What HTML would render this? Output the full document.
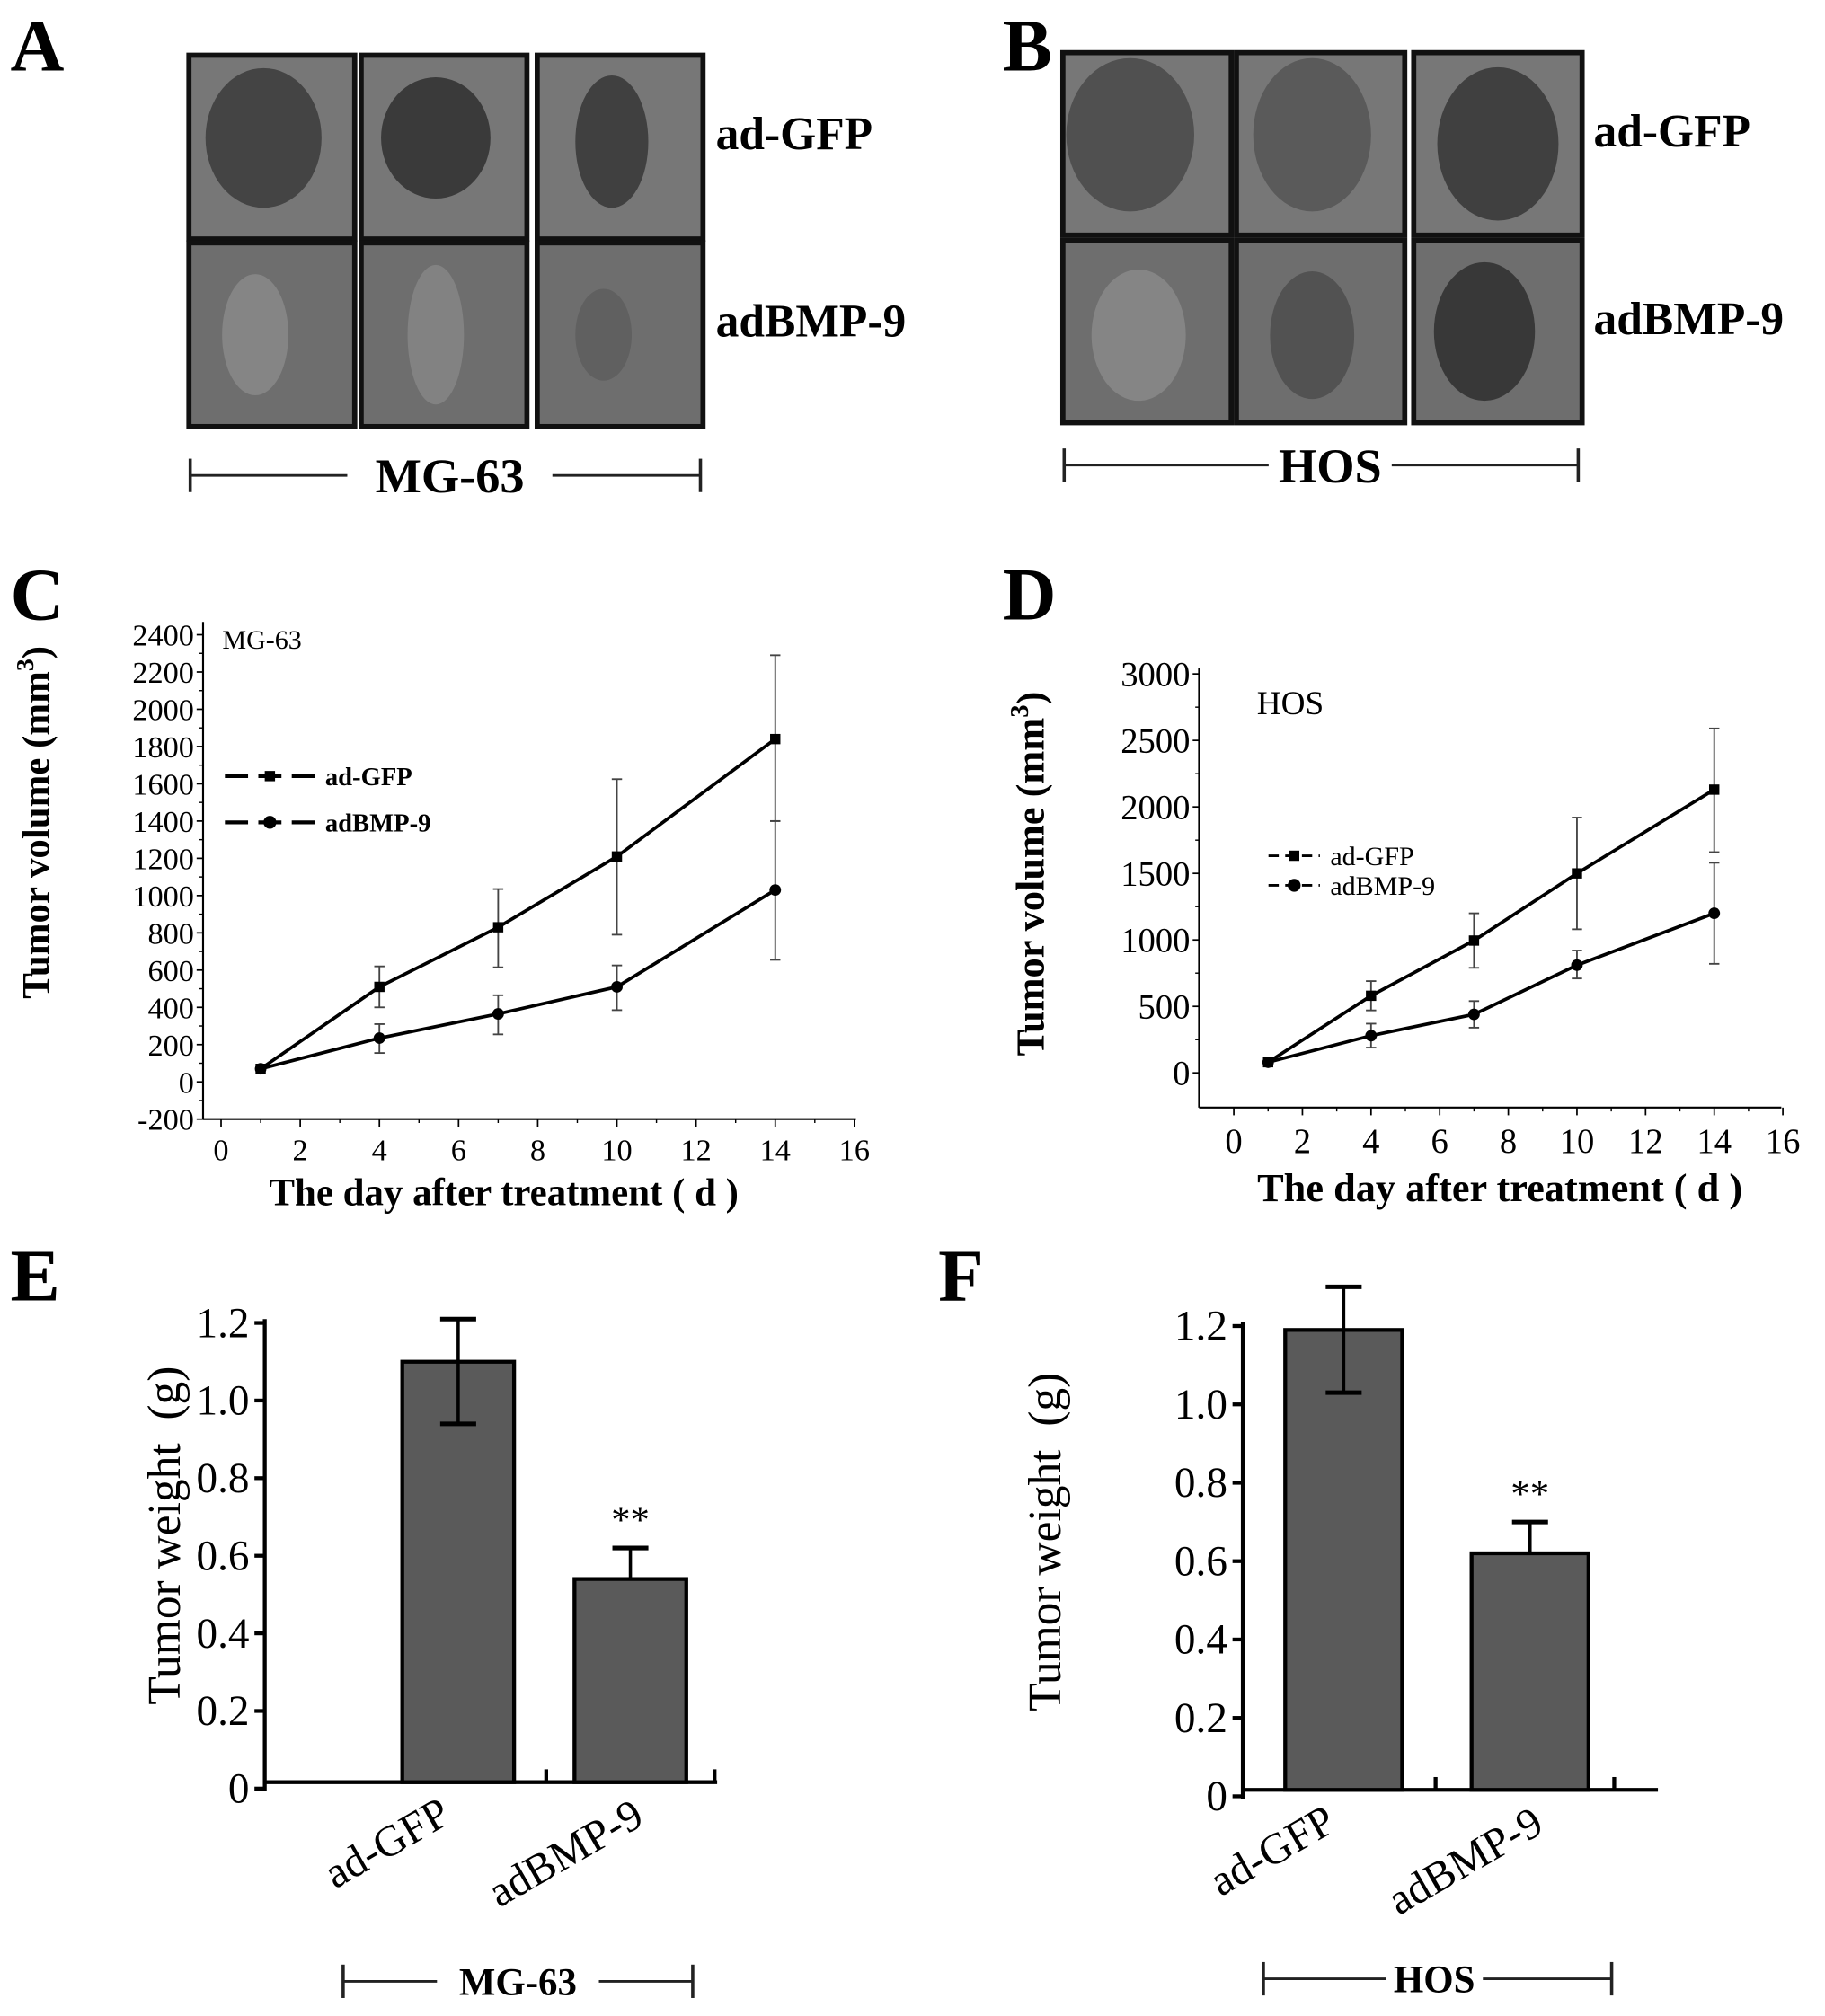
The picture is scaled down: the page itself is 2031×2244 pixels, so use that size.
<!DOCTYPE html>
<html><head><meta charset="utf-8"><style>
html,body{margin:0;padding:0;background:#fff;}
svg{display:block;}
text{font-family:"Liberation Serif",serif;fill:#000;}
</style></head><body>
<svg id="fig" width="2031" height="2244" viewBox="0 0 1420 1569" preserveAspectRatio="none" xmlns="http://www.w3.org/2000/svg">
<g id="photos"></g>
<text x="8" y="55" font-size="58" font-weight="bold">A</text>
<text x="780" y="55" font-size="58" font-weight="bold">B</text>
<text x="8" y="482" font-size="58" font-weight="bold">C</text>
<text x="780" y="482" font-size="58" font-weight="bold">D</text>
<text x="8" y="1012" font-size="58" font-weight="bold">E</text>
<text x="730" y="1012" font-size="58" font-weight="bold">F</text>
<g id="C"></g>
<g id="D"></g>
<g id="E"></g>
<g id="F"></g>
</svg>
<script>
// ---- Chart C data ----
const daysC = [1, 4, 7, 10, 14];
const gfpC = [70, 510, 830, 1210, 1840];
const gfpCHi = [70, 620, 1035, 1625, 2290];
const gfpCLo = [70, 400, 615, 790, 1400];
const bmpC = [70, 235, 365, 510, 1030];
const bmpCHi = [70, 310, 465, 625, 1400];
const bmpCLo = [70, 155, 255, 385, 655];
const yTicksC = [-200, 0, 200, 400, 600, 800, 1000, 1200, 1400, 1600, 1800, 2000, 2200, 2400];
const xTicks = [0, 2, 4, 6, 8, 10, 12, 14, 16];
// ---- Chart D data ----
const daysD = [1, 4, 7, 10, 14];
const gfpD = [80, 580, 995, 1500, 2130];
const gfpDHi = [80, 690, 1200, 1920, 2590];
const gfpDLo = [80, 470, 790, 1080, 1660];
const bmpD = [80, 280, 440, 810, 1200];
const bmpDHi = [80, 370, 540, 920, 1580];
const bmpDLo = [80, 190, 340, 710, 820];
const yTicksD = [0, 500, 1000, 1500, 2000, 2500, 3000];
// ---- Charts E/F data ----
const groups = ["ad-GFP", "adBMP-9"];
const weightE = [1.10, 0.54];
const weightEHi = [1.21, 0.62];
const weightELo = [0.94, 0.54];
const weightF = [1.19, 0.62];
const weightFHi = [1.30, 0.70];
const weightFLo = [1.03, 0.62];
const yTicksW = ["0", "0.2", "0.4", "0.6", "0.8", "1.0", "1.2"];

const NS = "http://www.w3.org/2000/svg";
function mk(parent, tag, attrs, txt) {
  const e = document.createElementNS(NS, tag);
  for (const k in attrs) e.setAttribute(k, attrs[k]);
  if (txt !== undefined) e.textContent = txt;
  parent.appendChild(e);
  return e;
}

// ---- photos ----
const ph = document.getElementById('photos');
function photoBlock(x0, y0, cellsX, rowsY, w, h, blobs) {
  let i = 0;
  rowsY.forEach((ry, r) => cellsX.forEach((cx, c) => {
    const bg = mk(ph, 'rect', {x: cx, y: ry, width: w, height: h, fill: r === 0 ? '#777' : '#6e6e6e', stroke: '#111', 'stroke-width': 4});
    
    
    const b = blobs[i++];
    const el = mk(ph, 'ellipse', {cx: cx + w * b[0], cy: ry + h * b[1], rx: w * b[2], ry: h * b[3], fill: b[4]});
    
    
  }));
}
photoBlock(0, 0, [147, 281, 418], [43, 189], 129, 143,
  [[0.45,0.45,0.35,0.38,'#444'],[0.45,0.45,0.33,0.33,'#3a3a3a'],[0.45,0.47,0.22,0.36,'#404040'],
   [0.4,0.5,0.2,0.33,'#858585'],[0.45,0.5,0.17,0.38,'#828282'],[0.4,0.5,0.17,0.25,'#606060']]);
photoBlock(0, 0, [827, 962, 1100], [41, 187], 131, 142,
  [[0.4,0.45,0.38,0.42,'#505050'],[0.45,0.45,0.35,0.42,'#5a5a5a'],[0.5,0.5,0.36,0.42,'#404040'],
   [0.45,0.52,0.28,0.36,'#858585'],[0.45,0.52,0.25,0.35,'#525252'],[0.42,0.5,0.3,0.38,'#383838']]);
[["ad-GFP",557,116],["adBMP-9",557,262],["ad-GFP",1240,114],["adBMP-9",1240,260]].forEach(t => {
  const e = mk(ph, 'text', {x: t[1], y: t[2], 'font-size': 36, 'font-weight': 'bold'}, t[0]);
  
  
});
function bracket(parent, x1, x2, y, label, tx, fs) {
  mk(parent, 'line', {x1: x1, x2: x2, y1: y, y2: y, stroke: '#222', 'stroke-width': 2});
  mk(parent, 'line', {x1: x1, x2: x1, y1: y - 13, y2: y + 13, stroke: '#222', 'stroke-width': 2.5});
  mk(parent, 'line', {x1: x2, x2: x2, y1: y - 13, y2: y + 13, stroke: '#222', 'stroke-width': 2.5});
  const w = label.length * fs * 0.42;
  mk(parent, 'rect', {x: tx - w, y: y - 20, width: 2 * w, height: 40, fill: '#fff'});
  const t = mk(parent, 'text', {x: tx, y: y + fs * 0.35, 'font-size': fs, 'font-weight': 'bold', 'text-anchor': 'middle'}, label);
  
  
}
bracket(ph, 148, 545, 370, "MG-63", 350, 38);
bracket(ph, 828, 1228, 362, "HOS", 1035, 38);

// ---- line charts ----
function lineChart(id, o) {
  const g = document.getElementById(id);
  const X = v => o.x0 + (v - 0) * o.xs;
  const Y = v => o.y0 - v * o.ys;
  mk(g, 'line', {x1: o.ax, x2: o.ax, y1: o.top, y2: o.bot, stroke: '#000', 'stroke-width': 1.5});
  mk(g, 'line', {x1: o.ax, x2: o.right, y1: o.bot, y2: o.bot, stroke: '#000', 'stroke-width': 1.5});
  o.yt.forEach((v, i) => {
    mk(g, 'line', {x1: o.ax - 5, x2: o.ax, y1: Y(v), y2: Y(v), stroke: '#000', 'stroke-width': 1.2});
    if (i < o.yt.length - 1) { const m = (v + o.yt[i+1]) / 2; mk(g, 'line', {x1: o.ax - 3, x2: o.ax, y1: Y(m), y2: Y(m), stroke: '#000', 'stroke-width': 1}); }
    const t = mk(g, 'text', {x: o.ax - 7, y: Y(v) + o.tfs * 0.35, 'font-size': o.tfs, 'text-anchor': 'end'}, String(v));
    
    
  });
  xTicks.forEach((v, i) => {
    mk(g, 'line', {x1: X(v), x2: X(v), y1: o.bot, y2: o.bot + 6, stroke: '#000', 'stroke-width': 1.2});
    if (i < xTicks.length - 1) mk(g, 'line', {x1: X(v + 1), x2: X(v + 1), y1: o.bot, y2: o.bot + 3, stroke: '#000', 'stroke-width': 1});
    const t = mk(g, 'text', {x: X(v), y: o.bot + 8 + o.tfs, 'font-size': o.tfs, 'text-anchor': 'middle'}, String(v));
    
    
  });
  o.series.forEach((s, si) => {
    const pts = o.days.map((d, i) => X(d) + ',' + Y(s.v[i])).join(' ');
    const pl = mk(g, 'polyline', {points: pts, fill: 'none', stroke: '#000', 'stroke-width': 2.6});
    
    
    o.days.forEach((d, i) => {
      mk(g, 'line', {x1: X(d), x2: X(d), y1: Y(s.hi[i]), y2: Y(s.lo[i]), stroke: '#444', 'stroke-width': 1.3});
      mk(g, 'line', {x1: X(d) - 4, x2: X(d) + 4, y1: Y(s.hi[i]), y2: Y(s.hi[i]), stroke: '#444', 'stroke-width': 1.3});
      mk(g, 'line', {x1: X(d) - 4, x2: X(d) + 4, y1: Y(s.lo[i]), y2: Y(s.lo[i]), stroke: '#444', 'stroke-width': 1.3});
      const m = si === 0 ? mk(g, 'rect', {x: X(d) - 4, y: Y(s.v[i]) - 4, width: 8, height: 8, fill: '#000'})
                         : mk(g, 'circle', {cx: X(d), cy: Y(s.v[i]), r: 4.5, fill: '#000'});
      
      
    });
    const ly = o.leg[1] + si * o.leg[3];
    mk(g, 'line', {x1: o.leg[0], x2: o.leg[0] + o.leg[2], y1: ly, y2: ly, stroke: '#000', 'stroke-width': o.lw, 'stroke-dasharray': o.dash});
    if (si === 0) mk(g, 'rect', {x: o.leg[0] + o.leg[2] / 2 - 4, y: ly - 4, width: 8, height: 8, fill: '#000'});
    else mk(g, 'circle', {cx: o.leg[0] + o.leg[2] / 2, cy: ly, r: 5, fill: '#000'});
    const lt = mk(g, 'text', {x: o.leg[0] + o.leg[2] + 8, y: ly + o.lfs * 0.35, 'font-size': o.lfs, 'font-weight': o.lbold}, s.label);
    
    
  });
  const tt = mk(g, 'text', {x: o.title[0], y: o.title[1], 'font-size': o.title[2]}, o.title[3]);
  
  
  const yl = mk(g, 'text', {x: 0, y: 0, 'font-size': o.axfs, 'font-weight': 'bold', 'text-anchor': 'middle', transform: `translate(${o.ylab[0]},${o.ylab[1]}) rotate(-90)`});
  yl.innerHTML = 'Tumor volume  (mm<tspan font-size="' + (o.axfs * 0.65) + '" dy="-12">3</tspan><tspan dy="12">)</tspan>';
  
  
  const xl = mk(g, 'text', {x: o.xlab[0], y: o.xlab[1], 'font-size': o.axfs, 'font-weight': 'bold', 'text-anchor': 'middle'}, 'The day after treatment ( d )');
  
  
}
lineChart('C', {x0: 172, xs: 30.8, y0: 842, ys: 0.145, ax: 158, top: 484, bot: 871, right: 666, yt: yTicksC, tfs: 24,
  days: daysC, series: [{name: 'ad-gfp', label: 'ad-GFP', v: gfpC, hi: gfpCHi, lo: gfpCLo}, {name: 'adbmp9', label: 'adBMP-9', v: bmpC, hi: bmpCHi, lo: bmpCLo}],
  leg: [175, 604, 70, 36], lw: 3, dash: '18,8', lfs: 20, lbold: 'bold', title: [173, 505, 21, 'MG-63'], ylab: [38, 640], xlab: [392, 938], axfs: 30});
lineChart('D', {x0: 960, xs: 26.7, y0: 835, ys: 0.1035, ax: 933, top: 520, bot: 862, right: 1386, yt: yTicksD, tfs: 27,
  days: daysD, series: [{name: 'ad-gfp', label: 'ad-GFP', v: gfpD, hi: gfpDHi, lo: gfpDLo}, {name: 'adbmp9', label: 'adBMP-9', v: bmpD, hi: bmpDHi, lo: bmpDLo}],
  leg: [987, 666, 40, 23], lw: 2, dash: '8,5', lfs: 21, lbold: 'normal', title: [978, 556, 26, 'HOS'], ylab: [812, 680], xlab: [1167, 935], axfs: 31});

// ---- bar charts ----
function barChart(id, o) {
  const g = document.getElementById(id);
  const Y = v => o.y0 - v * o.ys;
  mk(g, 'line', {x1: o.ax, x2: o.ax, y1: Y(1.2) - 3, y2: o.y0 + 2, stroke: '#000', 'stroke-width': 3});
  mk(g, 'line', {x1: o.ax, x2: o.right, y1: o.y0 - 5, y2: o.y0 - 5, stroke: '#000', 'stroke-width': 3});
  yTicksW.forEach(s => {
    const v = parseFloat(s);
    mk(g, 'line', {x1: o.ax - 8, x2: o.ax, y1: Y(v), y2: Y(v), stroke: '#000', 'stroke-width': 3});
    const t = mk(g, 'text', {x: o.ax - 12, y: Y(v) + 11, 'font-size': 33, 'text-anchor': 'end'}, s);
    
    
  });
  o.ticks.forEach(x => mk(g, 'line', {x1: x, x2: x, y1: o.y0 - 15, y2: o.y0 - 5, stroke: '#000', 'stroke-width': 3}));
  groups.forEach((name, i) => {
    const bx = o.bx[i], bw = o.bw;
    const r = mk(g, 'rect', {x: bx, y: Y(o.v[i]), width: bw, height: o.y0 - 5 - Y(o.v[i]), fill: '#5a5a5a', stroke: '#000', 'stroke-width': 3});
    
    
    const cx = bx + bw / 2;
    mk(g, 'line', {x1: cx, x2: cx, y1: Y(o.hi[i]), y2: Y(o.lo[i]), stroke: '#000', 'stroke-width': 2.5});
    mk(g, 'line', {x1: cx - 14, x2: cx + 14, y1: Y(o.hi[i]), y2: Y(o.hi[i]), stroke: '#000', 'stroke-width': 3.5});
    if (o.lo[i] < o.v[i]) mk(g, 'line', {x1: cx - 14, x2: cx + 14, y1: Y(o.lo[i]), y2: Y(o.lo[i]), stroke: '#000', 'stroke-width': 3.5});
    const t = mk(g, 'text', {x: 0, y: 0, 'font-size': 34, 'text-anchor': 'middle', transform: `translate(${cx - 50 + i * 5},${o.y0 + 52 + i * 8}) rotate(-30)`}, name);
    
    
    if (i === 1) {
      const s = mk(g, 'text', {x: cx, y: Y(o.hi[i]) - 12, 'font-size': 30, 'text-anchor': 'middle'}, '**');
      
      
    }
  });
  const yl = mk(g, 'text', {x: 0, y: 0, 'font-size': 36, 'text-anchor': 'middle', transform: `translate(${o.ylab[0]},${o.ylab[1]}) rotate(-90)`}, 'Tumor weight\u00a0 (g)');
  
  
  bracket(g, o.br[0], o.br[1], o.br[2], o.br[3], o.br[4], 30);
}
barChart('E', {y0: 1392, ys: 302, ax: 206, right: 558, ticks: [425, 556], bx: [313, 447], bw: 87, v: weightE, hi: weightEHi, lo: weightELo,
  ylab: [140, 1195], br: [267, 539, 1542, "MG-63", 403]});
barChart('F', {y0: 1398, ys: 305, ax: 967, right: 1290, ticks: [1117, 1256], bx: [1000, 1145], bw: 91, v: weightF, hi: weightFHi, lo: weightFLo,
  ylab: [825, 1200], br: [983, 1254, 1540, "HOS", 1116]});
</script>
</body></html>
